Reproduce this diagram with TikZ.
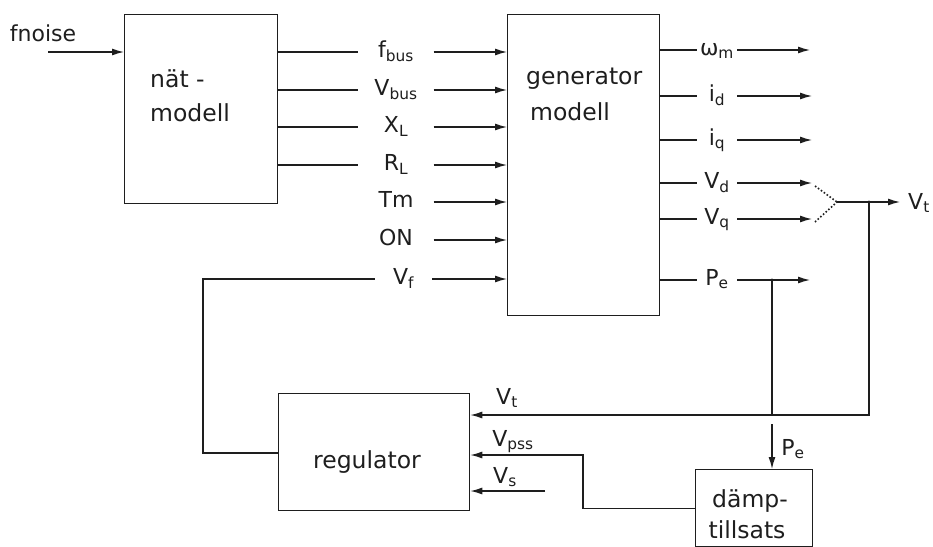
\documentclass[tikz,border=0pt]{standalone}
\usepackage{fontspec}
\setmainfont{DejaVu Sans}
\usetikzlibrary{arrows.meta,calc}
\begin{document}
\begin{tikzpicture}[x=1pt,y=-1pt,
  box/.style={draw=ink, line width=1.3pt, inner sep=0pt, anchor=north west},
  lbl/.style={inner sep=0pt, text=ink, text height=15pt, text depth=5pt, font=\fontsize{22}{26}\selectfont},
  btxt/.style={inner sep=0pt, text=ink, anchor=base west, font=\fontsize{23.5}{26}\selectfont},
  ln/.style={draw=ink, line width=1.3pt},
  arr/.style={draw=ink, line width=1.3pt, -{Latex[length=12pt,width=7pt]}},
  dot/.style={fill=ink},
]
\definecolor{ink}{HTML}{1E1E1E}
\useasboundingbox (0,0) rectangle (933,546);

% boxes
\node[box, minimum width=153pt, minimum height=189pt] (nat) at (124,14) {};
\node[box, minimum width=152pt, minimum height=301pt] (gen) at (507,14) {};
\node[box, minimum width=191pt, minimum height=117pt] (reg) at (278,393) {};
\node[box, minimum width=117pt, minimum height=77pt] (damp) at (695,469) {};

% box texts
\node[btxt] (natt1) at (150,87) {nät -};
\node[btxt] (natt2) at (150,121) {modell};
\node[btxt] (gent1) at (526,84) {generator};
\node[btxt] (gent2) at (530,120) {modell};
\node[btxt, anchor=base] (regt) at (367,468) {regulator};
\node[btxt, anchor=base] (dampt1) at (750,507) {dämp-};
\node[btxt, anchor=base] (dampt2) at (747,538) {tillsats};

% fnoise
\node[lbl] (fnl) at (43,36) {fnoise};
\coordinate (fn) at (48,52);
\draw[arr] (fn) -- (fn -| nat.west);

% inputs to generator
\node[lbl, minimum width=75pt] (fbus) at (396,52) {f\textsubscript{bus}};
\node[lbl, minimum width=75pt] (vbus) at (396,90) {V\textsubscript{bus}};
\node[lbl, minimum width=75pt] (xl) at (396,127) {X\textsubscript{L}};
\node[lbl, minimum width=75pt] (rl) at (396,165) {R\textsubscript{L}};
\node[lbl, minimum width=75pt] (tm) at (396,202) {Tm};
\node[lbl, minimum width=75pt] (on) at (396,240) {ON};
\node[lbl, minimum width=57pt] (vf) at (403.5,279) {V\textsubscript{f}};
\foreach \n in {fbus,vbus,xl,rl}{
  \draw[ln] (\n -| nat.east) -- (\n.west);
}
\foreach \n in {fbus,vbus,xl,rl,tm,on,vf}{
  \draw[arr] (\n.east) -- (\n -| gen.west);
}

% field voltage feedback to regulator
\coordinate (vfc) at (203,453);
\draw[ln] (vf.west) -| (vfc) -- (vfc -| reg.west);

% generator outputs
\node[lbl, minimum width=40pt] (wm) at (717,50) {ω\textsubscript{m}};
\node[lbl, minimum width=40pt] (id) at (717,96) {i\textsubscript{d}};
\node[lbl, minimum width=40pt] (iq) at (717,140) {i\textsubscript{q}};
\node[lbl, minimum width=40pt] (vd) at (717,183) {V\textsubscript{d}};
\node[lbl, minimum width=40pt] (vq) at (717,219) {V\textsubscript{q}};
\node[lbl, minimum width=40pt] (pe) at (717,280) {P\textsubscript{e}};
\coordinate (wme) at (810,50);
\coordinate (ide) at (812,96);
\coordinate (iqe) at (812,140);
\coordinate (vde) at (812,183);
\coordinate (vqe) at (812,219);
\coordinate (pee) at (810,280);
\foreach \n in {wm,id,iq,vd,vq,pe}{
  \draw[ln] (\n -| gen.east) -- (\n.west);
  \draw[arr] (\n.east) -- (\n e);
}

% combining Vd, Vq into Vt
\coordinate (vdd) at (815,186);
\coordinate (vqd) at (815,222);
\coordinate (merge) at (837,202);
\draw[ink, line width=1.6pt, dotted] (vdd) -- (merge);
\draw[ink, line width=1.6pt, dotted] (vqd) -- (merge);
\node[lbl, anchor=west, inner xsep=8pt] (vtout) at (900,204) {V\textsubscript{t}};
\draw[arr] (merge) -- (merge -| vtout.west);

% Vt feedback to regulator
\coordinate (jv) at (869,202);
\fill[dot] (jv) circle (1.6);
\coordinate (rowvt) at (869,415);
\draw[arr] (jv) -- (rowvt) -- (rowvt -| reg.east);
\node[lbl] (vtin) at (507,399) {V\textsubscript{t}};

% Pe to damping unit
\coordinate (jp) at (772,280);
\fill[dot] (jp) circle (1.6);
\draw[ln] (jp) -- (jp |- rowvt);
\coordinate (pes) at (772,424);
\draw[arr] (pes) -- (pes |- damp.north);
\node[lbl] (pelab) at (793,450) {P\textsubscript{e}};

% Vpss from damping unit
\coordinate (vpc) at (583,455);
\draw[arr] (damp.west) -| (vpc) -- (vpc -| reg.east);
\node[lbl] (vpss) at (513,441) {V\textsubscript{pss}};

% Vs
\coordinate (vsc) at (545,491);
\draw[arr] (vsc) -- (vsc -| reg.east);
\node[lbl] (vs) at (505,478) {V\textsubscript{s}};

\end{tikzpicture}
\end{document}
